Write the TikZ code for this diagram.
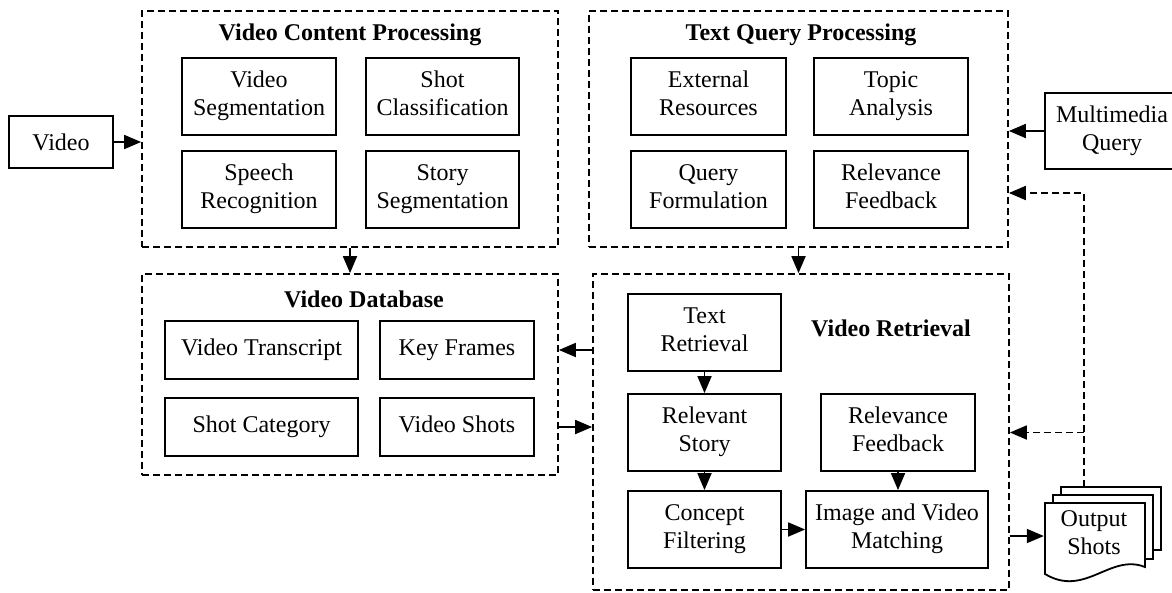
\documentclass[tikz,border=0pt]{standalone}
\usepackage{fontspec}
\setmainfont{Liberation Serif}
\usetikzlibrary{arrows.meta}

\newcommand{\topstrut}{\rule{0pt}{22pt}}
\newcommand{\botstrut}{\rule[-6pt]{0pt}{6pt}}
\newcommand{\lowstrut}{\rule[-12pt]{0pt}{12pt}}

\begin{document}
\begin{tikzpicture}
[
x=1pt, y=-1pt,
font=\fontsize{24}{28}\selectfont,
lines/.style={align=center, execute at begin node=\topstrut, execute at end node=\botstrut},
box/.style={draw, lines, line width=1.8pt, minimum width=154pt, minimum height=77pt, inner sep=2pt},
dbbox/.style={box, minimum height=58pt, execute at end node=\lowstrut},
group/.style={draw, line width=1.7pt, dash pattern=on 7pt off 4pt},
heading/.style={font=\fontsize{24}{28}\selectfont\bfseries},
flow/.style={line width=1.8pt, -{Triangle[length=17pt,width=14pt]}},
sheet/.style={draw, line width=1.8pt, fill=white}
]
\useasboundingbox (0,0) rectangle (1172,592);

% dashed blocks
\node[group, minimum width=416pt, minimum height=236pt] (vcp) at (350,129) {};
\node[group, minimum width=419pt, minimum height=236pt] (tqp) at (798.5,129) {};
\node[group, minimum width=416pt, minimum height=201pt] (vdb) at (350,374.5) {};
\node[group, minimum width=416pt, minimum height=316pt] (vr) at (801,432) {};

\node[heading] (vcptitle) at (350,35) {Video Content Processing};
\node[heading] (tqptitle) at (801,35) {Text Query Processing};
\node[heading] (vdbtitle) at (364,299) {Video Database};
\node[heading] (vrtitle) at (891,328) {Video Retrieval};

% video content processing
\node[box] (vseg) at (259,96.5) {Video\\Segmentation};
\node[box, minimum width=153pt] (shcl) at (442.5,96.5) {Shot\\Classification};
\node[box] (spre) at (259,189.5) {Speech\\Recognition};
\node[box, minimum width=153pt] (stseg) at (442.5,189.5) {Story\\Segmentation};

% text query processing
\node[box, minimum width=155pt] (extr) at (708.5,96.5) {External\\Resources};
\node[box] (topic) at (891,96.5) {Topic\\Analysis};
\node[box, minimum width=155pt] (qform) at (708.5,189.5) {Query\\Formulation};
\node[box] (rfq) at (891,189.5) {Relevance\\Feedback};

% video database
\node[dbbox, minimum width=193pt] (vtr) at (261.5,350) {Video Transcript};
\node[dbbox] (kf) at (457,350) {Key Frames};
\node[dbbox, minimum width=193pt] (shcat) at (261.5,427) {Shot Category};
\node[dbbox] (vs) at (457,427) {Video Shots};

% video retrieval
\node[box, minimum width=153pt] (tr) at (704.5,332.5) {Text\\Retrieval};
\node[box, minimum width=153pt] (rs) at (704.5,432.5) {Relevant\\Story};
\node[box, minimum width=153pt] (cf) at (704.5,529.5) {Concept\\Filtering};
\node[box] (rfr) at (898,432.5) {Relevance\\Feedback};
\node[box, minimum width=182pt] (ivm) at (897,529.5) {Image and Video\\Matching};

% inputs
\node[box, minimum width=104pt, minimum height=52pt] (video) at (61,142) {Video};
\node[box, minimum width=134pt, minimum height=76pt] (mq) at (1112,131) {Multimedia\\Query};

% output shots
\draw[sheet] (1061,487) rectangle (1161,550);
\draw[sheet] (1053,495) rectangle (1153,559);
\draw[sheet] (1045,503) -- (1145,503) -- (1145,567) .. controls (1110,553) and (1085,598) .. (1045,574) -- cycle;
\node[lines, inner sep=0pt, minimum width=100pt, minimum height=64pt] (out) at (1094,536) {Output\\Shots};
\coordinate (fb) at (1084,487);
\coordinate (bend) at (1084,193);

\draw[flow] (video) -- (vcp.west |- video);
\draw[flow] (mq) -- (tqp.east |- mq);
\draw[flow] (vcp.south) -- (vdb.north);
\draw[flow] (tqp.south) -- (tqp.south |- vr.north);
\draw[flow] (vr.west |- kf) -- (vdb.east |- kf);
\draw[flow] (vdb.east |- vs) -- (vr.west |- vs);
\draw[flow] (tr) -- (rs);
\draw[flow] (rs) -- (cf);
\draw[flow] (cf) -- (ivm);
\draw[flow] (rfr.south) -- (rfr.south |- ivm.north);
\draw[flow] (vr.east |- out) -- (out.west);
\draw[flow, dash pattern=on 7pt off 4pt] (fb) -- (bend) -- (tqp.east |- bend);
\draw[flow, dash pattern=on 7pt off 4pt] (fb |- rfr) -- (vr.east |- rfr);
\end{tikzpicture}
\end{document}
